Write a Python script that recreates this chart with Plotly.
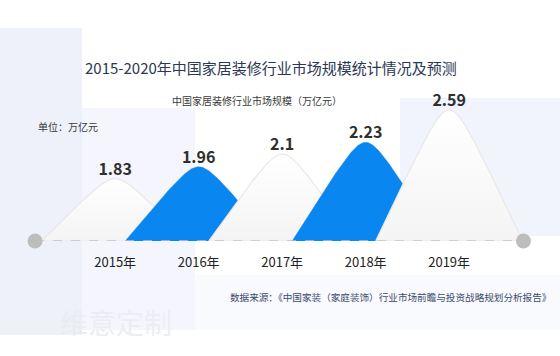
import numpy as np
import plotly.graph_objects as go

# ---- data ----
years = ["2015年", "2016年", "2017年", "2018年", "2019年"]
values = [1.83, 1.96, 2.1, 2.23, 2.59]
highlight = [False, True, False, True, False]

title_text = "2015-2020年中国家居装修行业市场规模统计情况及预测"
subtitle_text = "中国家居装修行业市场规模（万亿元）"
unit_text = "单位：万亿元"
source_text = "数据来源：《中国家装（家庭装饰）行业市场前瞻与投资战略规划分析报告》"
watermark_text = "维意定制"

# ---- layout geometry (pixels) ----
W, H = 560, 356
ML, MR, MT, MB = 15, 19, 80, 115
PW = W - ML - MR
PH = H - MT - MB
X_RANGE = [-1.2, 5.1]
BASE = 1.14
Y_RANGE = [BASE, BASE + PH / 90.5]

FONT = "Noto Sans CJK SC"


def pxx(px):
    return (px - ML) / PW


def pxy(py):
    return (H - MB - py) / PH


fig = go.Figure()

# mountains
half_w = 0.88
a = 0.19
t = np.linspace(-1, 1, 161)
prof = (np.sqrt(1 + a * a) - np.sqrt(t * t + a * a)) / (np.sqrt(1 + a * a) - a)

for i, (v, hl) in enumerate(zip(values, highlight)):
    xs = list(i + t * half_w)
    ys = list(BASE + (v - BASE) * prof)
    xs_c = xs + [xs[0]]
    ys_c = ys + [ys[0]]
    if hl:
        fig.add_trace(go.Scatter(
            x=xs_c, y=ys_c, mode="lines", fill="toself",
            fillcolor="#0a86f0", line=dict(color="#0a86f0", width=0.5),
            hoverinfo="skip", showlegend=False))
    else:
        fig.add_trace(go.Scatter(
            x=xs_c, y=ys_c, mode="lines", fill="toself",
            fillgradient=dict(type="vertical",
                              colorscale=[[0, "#f4f4f4"], [1, "#ffffff"]]),
            line=dict(color="#e8e8e8", width=1.2),
            hoverinfo="skip", showlegend=False))

# dashed baseline with end dots
fig.add_trace(go.Scatter(
    x=[-0.96, 4.89], y=[BASE, BASE], mode="lines",
    line=dict(color="#c4c4c4", width=1.5, dash="dash"),
    hoverinfo="skip", showlegend=False, cliponaxis=False))
fig.add_trace(go.Scatter(
    x=[-0.96, 4.89], y=[BASE, BASE], mode="markers",
    marker=dict(color="#bdbdbd", size=15),
    hoverinfo="skip", showlegend=False, cliponaxis=False))

# value labels
fig.add_trace(go.Scatter(
    x=list(range(len(values))), y=values, mode="text",
    text=[f"{v:g}" for v in values], textposition="top center",
    textfont=dict(family=FONT, size=16, color="#2f2f2f", weight="bold"),
    hoverinfo="skip", showlegend=False, cliponaxis=False))

annotations = [
    dict(text=title_text, x=pxx(271), y=pxy(67), xanchor="center", yanchor="middle",
         font=dict(family=FONT, size=15, color="#2c3852")),
    dict(text=subtitle_text, x=pxx(257), y=pxy(100), xanchor="center", yanchor="middle",
         font=dict(family=FONT, size=10, color="#3a3a3a")),
    dict(text=unit_text, x=pxx(36), y=pxy(126), xanchor="left", yanchor="middle",
         font=dict(family=FONT, size=10, color="#3a3a3a")),
    dict(text=source_text, x=pxx(553), y=pxy(297), xanchor="right", yanchor="middle",
         font=dict(family=FONT, size=9.6, color="#3b4a6e")),
    dict(text=watermark_text, x=pxx(58), y=pxy(322), xanchor="left", yanchor="middle",
         font=dict(family=FONT, size=28, color="rgba(234,236,243,0.9)")),
]
for an in annotations:
    an.update(xref="paper", yref="paper", showarrow=False)

shapes = [
    dict(x0=pxx(0), x1=pxx(82), y0=pxy(335), y1=pxy(28), fillcolor="#eef0fa"),
    dict(x0=pxx(82), x1=pxx(195), y0=pxy(330), y1=pxy(108), fillcolor="#f5f6fd"),
    dict(x0=pxx(400), x1=pxx(560), y0=pxy(236), y1=pxy(98), fillcolor="#f1f4fc"),
    dict(x0=pxx(195), x1=pxx(560), y0=pxy(330), y1=pxy(275), fillcolor="#f9fafd"),
]
for s in shapes:
    s.update(type="rect", xref="paper", yref="paper", line=dict(width=0), layer="below")

fig.update_layout(
    width=W, height=H,
    margin=dict(l=ML, r=MR, t=MT, b=MB, pad=0),
    paper_bgcolor="#ffffff", plot_bgcolor="rgba(0,0,0,0)",
    xaxis=dict(range=X_RANGE, tickvals=list(range(len(years))), ticktext=years,
               showgrid=False, zeroline=False, showline=False, ticks="",
               ticklabelstandoff=12,
               tickfont=dict(family=FONT, size=13, color="#222222"), fixedrange=True),
    yaxis=dict(range=Y_RANGE, visible=False, fixedrange=True),
    annotations=annotations, shapes=shapes,
    showlegend=False,
)

fig.write_html("out.html", config={"displayModeBar": False},
               post_script="document.body.style.margin='0px';document.body.style.overflow='hidden';")
